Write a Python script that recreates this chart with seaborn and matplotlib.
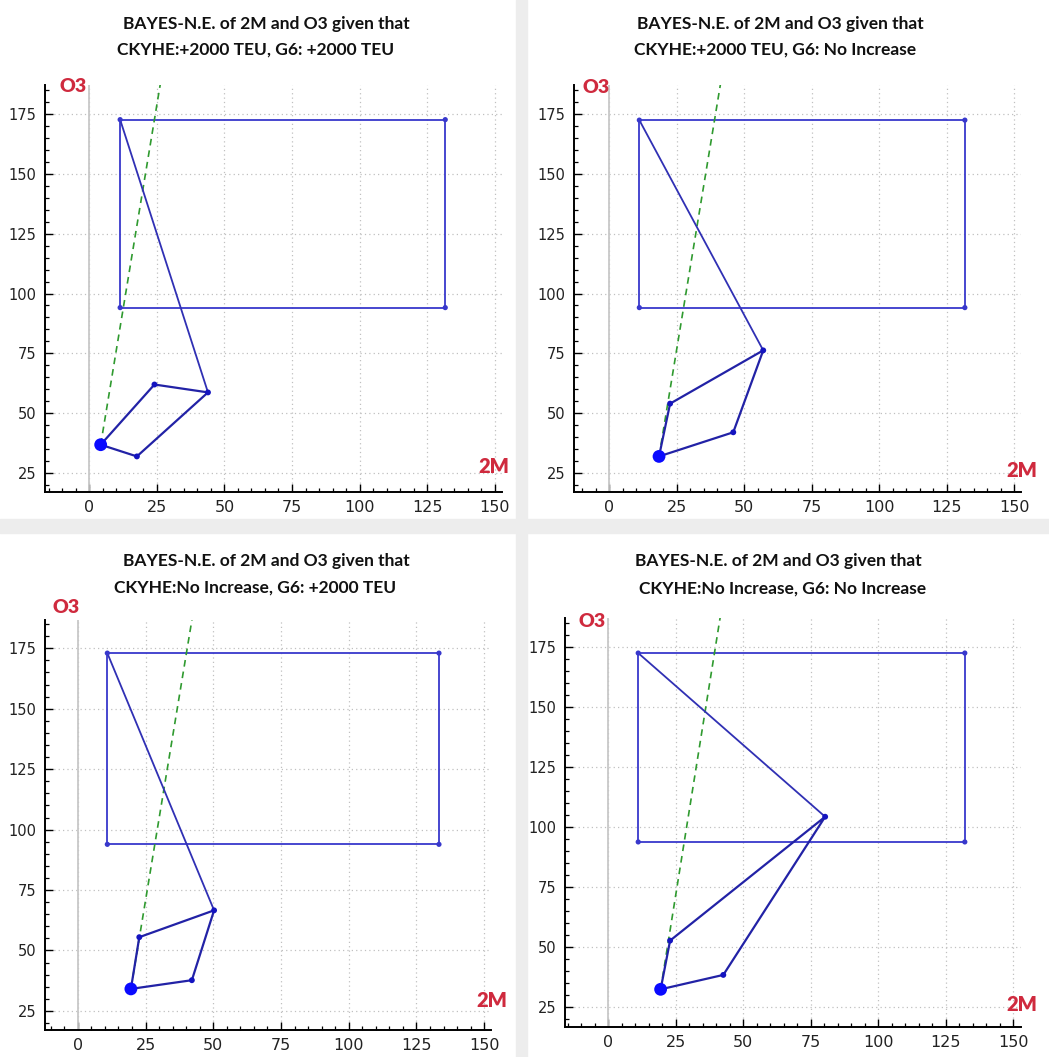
import matplotlib
matplotlib.use("Agg")
import matplotlib.pyplot as plt
import seaborn as sns
import pandas as pd
from matplotlib.ticker import MultipleLocator
from matplotlib.patches import Rectangle

# ---------------- data ----------------
title_line1 = "BAYES-N.E. of 2M and O3 given that"
title_line2 = [
    "CKYHE:+2000 TEU, G6: +2000 TEU",
    "CKYHE:+2000 TEU, G6: No Increase",
    "CKYHE:No Increase, G6: +2000 TEU",
    "CKYHE:No Increase, G6: No Increase",
]
x_name = "2M"
y_name = "O3"
x_ticks = [0, 25, 50, 75, 100, 125, 150]
y_ticks = [25, 50, 75, 100, 125, 150, 175]

# rectangle (strategy box) per panel
rect_left = [11.4, 11.1, 10.9, 11.1]
rect_right = [131.7, 131.7, 133.3, 132.0]
rect_bottom = [94.1, 94.1, 93.9, 93.9]
rect_top = [172.8, 172.6, 173.0, 172.6]

# Bayes Nash equilibrium point (big dot)
ne_x = [4.2, 18.4, 19.6, 19.4]
ne_y = [36.7, 31.8, 34.1, 32.5]
# other vertices of the quadrilateral
a_x = [17.6, 45.9, 42.1, 42.6]
a_y = [31.8, 41.9, 37.7, 38.5]
b_x = [43.9, 57.0, 50.3, 80.3]
b_y = [58.6, 76.2, 66.6, 104.4]
c_x = [24.1, 22.5, 22.7, 22.9]
c_y = [61.9, 53.9, 55.5, 52.8]
# dashed green ray end
green_x = [26.6, 41.5, 42.6, 41.8]
green_y = [190.0, 190.0, 190.0, 190.0]

# ---------------- layout (pixels) ----------------
W, H = 1049, 1057
axes_px = [(45, 85, 502, 492), (574, 85, 1021, 492),
           (45, 620, 491, 1030), (565, 618, 1021, 1027)]
xlims = [(-16.4, 152.7), (-13.1, 152.5), (-12.1, 152.5), (-16.0, 152.8)]
ylims = [(16.9, 187.3), (16.9, 187.3), (17.1, 186.7), (16.8, 187.2)]
title_pos = [((266, 28.5), (256, 55)), ((780, 28.5), (775, 55)),
             ((266, 566), (255, 593)), ((778, 566), (783, 594))]
o3_pos = [(87, 92.5), (610, 93), (80, 613), (606, 627)]
m2_pos = [(509, 473), (1037, 477), (507, 1007), (1037, 1011)]

sns.set_theme(style="white")
plt.rcParams["font.family"] = ["DejaVu Sans"]

fig = plt.figure(figsize=(W / 100, H / 100), dpi=100)
fig.patch.set_facecolor("white")
band = "#ededed"
fig.patches.append(Rectangle((516 / W, 0), 11 / W, 1, transform=fig.transFigure,
                             color=band, zorder=0))
fig.patches.append(Rectangle((0, 1 - 533 / H), 1, 14 / H, transform=fig.transFigure,
                             color=band, zorder=0))

poly_col = "#2222a6"
rect_col = "#3838cc"
red = "#cf2a3e"
bold_font = ["Lato", "DejaVu Sans"]

for i in range(4):
    l, t, r, b = axes_px[i]
    ax = fig.add_axes([l / W, 1 - b / H, (r - l) / W, (b - t) / H])
    ax.set_facecolor("white")
    ax.set_xlim(*xlims[i])
    ax.set_ylim(*ylims[i])

    # grid + zero line
    ax.set_xticks(x_ticks)
    ax.set_yticks(y_ticks)
    ax.xaxis.set_minor_locator(MultipleLocator(5))
    ax.yaxis.set_minor_locator(MultipleLocator(5))
    ax.grid(True, which="major", linestyle=(0, (1, 2.5)), color="#c0c0c0", lw=0.9)
    ax.axvline(0, color="#c8c8c8", lw=1.3, zorder=1)

    # rectangle
    rx = [rect_left[i], rect_right[i], rect_right[i], rect_left[i], rect_left[i]]
    ry = [rect_top[i], rect_top[i], rect_bottom[i], rect_bottom[i], rect_top[i]]
    sns.lineplot(x=rx, y=ry, sort=False, estimator=None, ax=ax,
                 color=rect_col, lw=1.3, zorder=3)
    sns.scatterplot(x=rx[:4], y=ry[:4], ax=ax, color=rect_col, s=14,
                    edgecolor="none", zorder=4)

    # green dashed ray
    sns.lineplot(x=[ne_x[i], green_x[i]], y=[ne_y[i], green_y[i]], sort=False,
                 estimator=None, ax=ax, color="#2f9a2f", lw=1.2,
                 linestyle=(0, (4, 3)), zorder=3)

    # tie line from far vertex to rectangle top-left
    sns.lineplot(x=[b_x[i], rect_left[i]], y=[b_y[i], rect_top[i]], sort=False,
                 estimator=None, ax=ax, color="#3030b4", lw=1.3, zorder=3)

    # quadrilateral
    px = [ne_x[i], a_x[i], b_x[i], c_x[i], ne_x[i]]
    py = [ne_y[i], a_y[i], b_y[i], c_y[i], ne_y[i]]
    sns.lineplot(x=px, y=py, sort=False, estimator=None, ax=ax,
                 color=poly_col, lw=1.6, zorder=5)
    sns.scatterplot(x=px[1:4], y=py[1:4], ax=ax, color="#1414c0", s=18,
                    edgecolor="none", zorder=6)
    sns.scatterplot(x=[ne_x[i]], y=[ne_y[i]], ax=ax, color="#0a0aff", s=85,
                    edgecolor="none", zorder=7)

    # spines and ticks
    for side in ("top", "right"):
        ax.spines[side].set_visible(False)
    for side in ("left", "bottom"):
        ax.spines[side].set_color("black")
        ax.spines[side].set_linewidth(1.4)
    ax.tick_params(which="major", direction="in", length=6, width=1.0,
                   color="black", left=True, bottom=True)
    ax.tick_params(which="minor", direction="in", length=3, width=0.9,
                   color="black", left=True, bottom=True)
    ax.tick_params(axis="y", labelsize=10.5, pad=6, labelcolor="#222222")
    ax.tick_params(axis="x", labelsize=11.5, pad=6, labelcolor="#222222")
    for lab in ax.get_xticklabels():
        lab.set_family(["Liberation Sans Narrow", "DejaVu Sans"])
    ax.set_xlabel("")
    ax.set_ylabel("")
    if ax.get_legend():
        ax.get_legend().remove()

    # titles
    (x1, y1), (x2, y2) = title_pos[i]
    fig.text(x1 / W, 1 - y1 / H, title_line1, ha="center", va="baseline",
             fontsize=12.5, fontweight="bold", family=bold_font, color="#111111")
    fig.text(x2 / W, 1 - y2 / H, title_line2[i], ha="center", va="baseline",
             fontsize=12.5, fontweight="bold", family=bold_font, color="#111111")
    # axis names
    ox, oy = o3_pos[i]
    fig.text(ox / W, 1 - oy / H, y_name, ha="right", va="baseline",
             fontsize=14, fontweight="heavy", family=bold_font, color=red)
    mx, my = m2_pos[i]
    fig.text(mx / W, 1 - my / H, x_name, ha="right", va="baseline",
             fontsize=14.5, fontweight="heavy", family=bold_font, color=red)

fig.savefig("out.png", dpi=100, facecolor="white")
